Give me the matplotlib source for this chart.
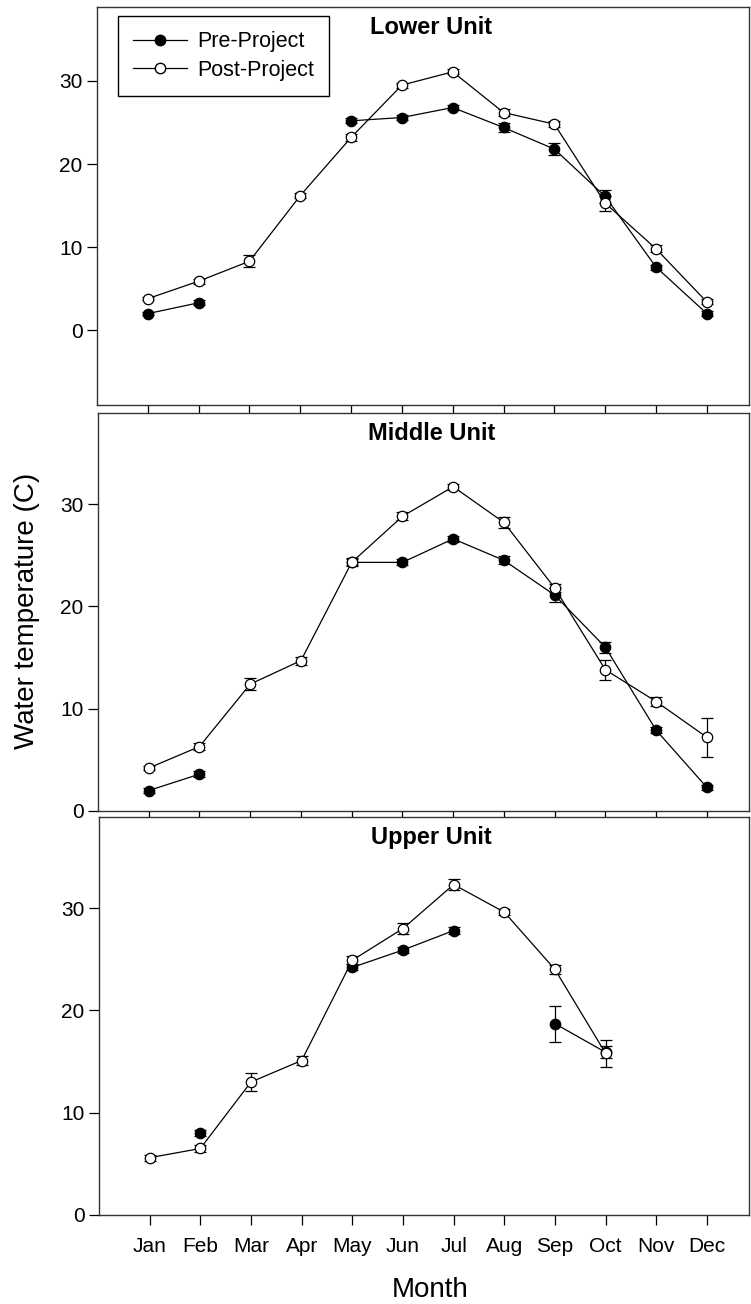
import numpy as np
import matplotlib
matplotlib.use('Agg')
import matplotlib.pyplot as plt
from matplotlib.lines import Line2D

plt.rcParams['font.family'] = ['Liberation Sans', 'DejaVu Sans']

nan = np.nan
months = ['Jan', 'Feb', 'Mar', 'Apr', 'May', 'Jun', 'Jul', 'Aug', 'Sep', 'Oct', 'Nov', 'Dec']

lower_pre = [2.0, 3.3, nan, nan, 25.2, 25.6, 26.8, 24.4, 21.8, 16.1, 7.6, 2.0]
lower_pre_err = [0.2, 0.3, nan, nan, 0.3, 0.3, 0.3, 0.5, 0.7, 0.8, 0.3, 0.3]
lower_post = [3.8, 5.9, 8.3, 16.2, 23.2, 29.5, 31.1, 26.2, 24.8, 15.3, 9.8, 3.4]
lower_post_err = [0.2, 0.3, 0.7, 0.3, 0.4, 0.3, 0.3, 0.4, 0.4, 0.9, 0.4, 0.3]

middle_pre = [2.0, 3.6, nan, nan, 24.3, 24.3, 26.6, 24.5, 21.1, 16.0, 7.9, 2.3]
middle_pre_err = [0.2, 0.3, nan, nan, 0.3, 0.3, 0.3, 0.4, 0.7, 0.55, 0.3, 0.2]
middle_post = [4.2, 6.3, 12.4, 14.7, 24.3, 28.8, 31.7, 28.2, 21.8, 13.8, 10.7, 7.2]
middle_post_err = [0.2, 0.3, 0.6, 0.4, 0.4, 0.4, 0.3, 0.57, 0.4, 0.95, 0.4, 1.9]

upper_pre = [nan, 8.0, nan, nan, 24.2, 25.9, 27.8, nan, 18.7, 15.9, nan, nan]
upper_pre_err = [nan, 0.3, nan, nan, 0.3, 0.3, 0.3, nan, 1.75, 0.6, nan, nan]
upper_post = [5.6, 6.5, 13.0, 15.1, 24.9, 28.0, 32.3, 29.6, 24.0, 15.8, nan, nan]
upper_post_err = [0.3, 0.3, 0.85, 0.4, 0.4, 0.5, 0.5, 0.3, 0.4, 1.3, nan, nan]

panels = [
    ('Lower Unit', lower_pre, lower_pre_err, lower_post, lower_post_err, (-9, 38.9)),
    ('Middle Unit', middle_pre, middle_pre_err, middle_post, middle_post_err, (0, 38.9)),
    ('Upper Unit', upper_pre, upper_pre_err, upper_post, upper_post_err, (0, 38.9)),
]

W, H = 751, 1304
fig = plt.figure(figsize=(W / 100, H / 100), dpi=100)

# pixel boxes (left, top, right, bottom)
boxes = [(97, 7, 749, 405), (98, 413, 749, 811), (99, 817, 749, 1215)]

x = np.arange(1, 13)
axes = []
for (title, pre, pre_err, post, post_err, ylim), (l, t, r, b) in zip(panels, boxes):
    ax = fig.add_axes([l / W, 1 - b / H, (r - l) / W, (b - t) / H])
    axes.append(ax)
    style = dict(color='black', lw=0.9, ms=7.5, capsize=4.5, elinewidth=0.9,
                 capthick=0.9, mec='black', mew=0.9)
    ax.errorbar(x, pre, yerr=pre_err, marker='o', mfc='black', **style)
    ax.errorbar(x, post, yerr=post_err, marker='o', mfc='white', **style)
    ax.set_xlim(0, 12.83)
    ax.set_ylim(*ylim)
    ax.set_yticks([0, 10, 20, 30])
    ax.set_xticks(x)
    ax.tick_params(direction='out', length=7, width=0.9, labelsize=15, colors='black')
    for sp in ax.spines.values():
        sp.set_linewidth(1.0)
        sp.set_color('#333333')
    ax.text(0.512, 0.978, title, transform=ax.transAxes, ha='center', va='top',
            fontsize=17, fontweight='bold')

for ax in axes[:2]:
    ax.set_xticklabels([])
axes[2].set_xticklabels(months)
axes[2].tick_params(axis='x', pad=9)

handles = [
    Line2D([], [], color='black', lw=0.9, marker='o', ms=7.5, mfc='black', mec='black'),
    Line2D([], [], color='black', lw=0.9, marker='o', ms=7.5, mfc='white', mec='black'),
]
leg = axes[0].legend(handles, ['Pre-Project', 'Post-Project'], loc='upper left',
                     bbox_to_anchor=(0.032, 0.977), borderaxespad=0, fontsize=15.5,
                     fancybox=False, edgecolor='black', framealpha=1,
                     handlelength=2.5, handletextpad=0.5, labelspacing=0.35,
                     borderpad=0.7)
leg.get_frame().set_linewidth(1.0)

fig.text(27 / W, 1 - 611 / H, 'Water temperature (C)', rotation=90,
         ha='center', va='center', fontsize=20)
fig.text(430 / W, 1 - 1290 / H, 'Month', ha='center', va='center', fontsize=20)

fig.savefig('out.png', dpi=100)
